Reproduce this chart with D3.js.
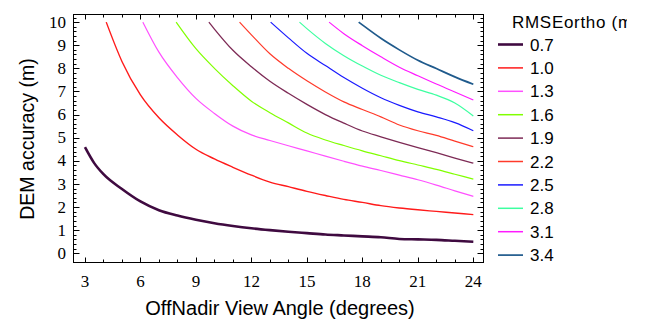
<!DOCTYPE html>
<html lang="en">
<head>
<meta charset="utf-8">
<title>DEM accuracy vs off-nadir angle</title>
<style>
  * { margin: 0; padding: 0; }
  body { background: #fff; overflow: hidden; }
  svg { display: block; }
</style>
</head>
<body>
<svg id="chart" width="645" height="322"></svg>
<script src="https://cdn.jsdelivr.net/npm/d3@7"></script>
<script>
// RMSEortho levels (m), one curve each
const rmsLevels = ["0.7", "1.0", "1.3", "1.6", "1.9", "2.2", "2.5", "2.8", "3.1", "3.4"];
const colors = ["#3f0a40", "#ff1a1a", "#ff50ff", "#80ff00", "#7d2a55", "#ff3a2a", "#1a1aff", "#3dffa0", "#ff1aff", "#1f5a8c"];
const widths = [2.6, 1.4, 1.2, 1.2, 1.3, 1.2, 1.2, 1.2, 1.2, 1.7];

// [off-nadir angle (deg), DEM accuracy (m)]
const dem07 = [[3, 4.59], [3.5, 3.9], [4, 3.42], [5, 2.78], [6, 2.24], [7, 1.86], [8, 1.63], [9, 1.45], [10, 1.3], [11, 1.18], [12, 1.08], [13, 1.0], [14, 0.93], [15, 0.87], [16, 0.81], [17, 0.77], [18, 0.73], [19, 0.69], [20, 0.62], [21, 0.6], [22, 0.58], [23, 0.54], [24, 0.5]];
const dem10 = [[4.15, 10], [5, 8.3], [6, 6.85], [7, 5.86], [8, 5.12], [9, 4.5], [10, 4.08], [11, 3.72], [12, 3.38], [13, 3.08], [14, 2.88], [15, 2.68], [16, 2.5], [17, 2.33], [18, 2.2], [19, 2.06], [20, 1.96], [21, 1.88], [22, 1.81], [23, 1.74], [24, 1.67]];
const dem13 = [[6.13, 10], [7, 8.7], [8, 7.6], [9, 6.7], [10, 6.05], [11, 5.5], [12, 5.12], [13, 4.88], [14, 4.65], [15, 4.43], [16, 4.2], [17, 3.98], [18, 3.77], [19, 3.58], [20, 3.38], [21, 3.18], [22, 2.95], [23, 2.7], [24, 2.46]];
const dem16 = [[7.93, 10], [9, 8.85], [10, 8.0], [11, 7.25], [12, 6.58], [13, 6.08], [14, 5.64], [15, 5.2], [16, 4.9], [17, 4.66], [18, 4.43], [19, 4.22], [20, 4.01], [21, 3.82], [22, 3.63], [23, 3.42], [24, 3.21]];
const dem19 = [[9.7, 10], [10, 9.7], [11, 8.78], [12, 8.07], [13, 7.44], [14, 6.92], [15, 6.44], [16, 6.0], [17, 5.63], [18, 5.29], [19, 5.04], [20, 4.8], [21, 4.57], [22, 4.35], [23, 4.12], [24, 3.9]];
const dem22 = [[11.36, 10], [12, 9.45], [13, 8.63], [14, 8.0], [15, 7.46], [16, 6.98], [17, 6.55], [18, 6.22], [19, 5.9], [20, 5.55], [21, 5.3], [22, 5.1], [23, 4.85], [24, 4.61]];
const dem25 = [[13.04, 10], [14, 9.32], [15, 8.65], [16, 8.12], [17, 7.6], [18, 7.14], [19, 6.73], [20, 6.4], [21, 6.12], [22, 5.9], [23, 5.65], [24, 5.3]];
const dem28 = [[14.6, 10], [15, 9.72], [16, 9.08], [17, 8.55], [18, 8.1], [19, 7.7], [20, 7.38], [21, 7.09], [22, 6.84], [23, 6.5], [24, 5.94]];
const dem31 = [[16.2, 10], [17, 9.5], [18, 8.98], [19, 8.5], [20, 8.05], [21, 7.68], [22, 7.32], [23, 6.98], [24, 6.63]];
const dem34 = [[17.8, 10], [18, 9.88], [19, 9.3], [20, 8.8], [21, 8.35], [22, 7.99], [23, 7.63], [24, 7.31]];
const allSeries = [dem07, dem10, dem13, dem16, dem19, dem22, dem25, dem28, dem31, dem34];

const xTicks = [3, 6, 9, 12, 15, 18, 21, 24];
const yTicks = [0, 1, 2, 3, 4, 5, 6, 7, 8, 9, 10];

const serif = "'Liberation Serif', 'Times New Roman', 'DejaVu Serif', serif";
const sans = "'Liberation Sans', Arial, Helvetica, sans-serif";

const plotLeft = 73.5, plotRight = 483.5, plotTop = 14.5, plotBottom = 262.5;

const x = d3.scaleLinear().domain([2.38, 24.55]).range([plotLeft, plotRight]);
const y = d3.scaleLinear().domain([-0.4, 10.33]).range([plotBottom, plotTop]);

const svg = d3.select("#chart");

// the legend title runs off the right of the original figure
svg.append("defs").append("clipPath").attr("id", "title-clip")
  .append("rect").attr("x", 490).attr("y", 0).attr("width", 137).attr("height", 40);

// curves
const line = d3.line().x(d => x(d[0])).y(d => y(d[1])).curve(d3.curveMonotoneX);
svg.append("g").selectAll("path")
  .data(allSeries).join("path")
  .attr("d", line)
  .attr("fill", "none")
  .attr("stroke", (d, i) => colors[i])
  .attr("stroke-width", (d, i) => widths[i])
  .attr("stroke-linejoin", "round");

// frame with inward ticks on all four sides
const axes = svg.append("g").attr("stroke", "#000").attr("stroke-width", 1);
axes.append("rect")
  .attr("x", plotLeft).attr("y", plotTop)
  .attr("width", plotRight - plotLeft).attr("height", plotBottom - plotTop)
  .attr("fill", "none");

const xMinor = d3.range(3, 25, 1);
const yMinor = d3.range(-0.4, 10.3, 0.2).filter(v => v >= -0.01);

function ticksY(vals, len) {
  vals.forEach(v => {
    const py = Math.round(y(v)) + 0.5;
    axes.append("line").attr("x1", plotLeft).attr("x2", plotLeft + len).attr("y1", py).attr("y2", py);
    axes.append("line").attr("x1", plotRight).attr("x2", plotRight - len).attr("y1", py).attr("y2", py);
  });
}
function ticksX(vals, len) {
  vals.forEach(v => {
    const px = Math.round(x(v)) + 0.5;
    axes.append("line").attr("x1", px).attr("x2", px).attr("y1", plotBottom).attr("y2", plotBottom - len);
    axes.append("line").attr("x1", px).attr("x2", px).attr("y1", plotTop).attr("y2", plotTop + len);
  });
}
ticksY(yMinor, 3);
ticksY(yTicks, 6);
ticksX(xMinor, 3);
ticksX(xTicks, 5);

// tick labels
svg.append("g").selectAll("text")
  .data(yTicks).join("text")
  .attr("font-family", serif)
  .attr("font-size", 17)
  .attr("x", 66)
  .attr("y", d => y(d))
  .attr("dy", "0.33em")
  .attr("text-anchor", "end")
  .text(d => d);

svg.append("g").selectAll("text")
  .data(xTicks).join("text")
  .attr("font-family", serif)
  .attr("font-size", 17)
  .attr("x", d => x(d))
  .attr("y", 287)
  .attr("text-anchor", "middle")
  .text(d => d);

// axis titles
svg.append("text")
  .attr("font-family", sans)
  .attr("font-size", 19.5)
  .attr("transform", "translate(34,139) rotate(-90)")
  .attr("text-anchor", "middle")
  .text("DEM accuracy (m)");

svg.append("text")
  .attr("font-family", sans)
  .attr("font-size", 20)
  .attr("x", 280)
  .attr("y", 315)
  .attr("text-anchor", "middle")
  .text("OffNadir View Angle (degrees)");

// legend
const legend = svg.append("g").attr("font-family", sans).attr("font-size", 17);
legend.append("text")
  .attr("x", 512)
  .attr("y", 28)
  .attr("letter-spacing", 0.7)
  .attr("clip-path", "url(#title-clip)")
  .text("RMSEortho (m)");

const item = legend.selectAll("g.item")
  .data(rmsLevels).join("g")
  .attr("class", "item")
  .attr("transform", (d, i) => `translate(0,${44.5 + i * 23.4})`);
item.append("line")
  .attr("x1", 498).attr("x2", 523)
  .attr("y1", 0).attr("y2", 0)
  .attr("stroke", (d, i) => colors[i])
  .attr("stroke-width", (d, i) => Math.max(widths[i], 1.5));
item.append("text")
  .attr("x", 530)
  .attr("dy", "0.36em")
  .text(d => d);
</script>
</body>
</html>
